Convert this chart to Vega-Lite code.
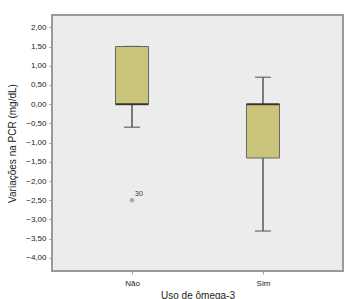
{
  "$schema": "https://vega.github.io/schema/vega-lite/v6.json",
  "autosize": {"type": "none"},
  "padding": {"left": 52, "top": 15, "right": 6, "bottom": 28},
  "width": 291,
  "height": 256,
  "background": "white",
  "config": {
    "view": {"fill": "#ececec", "stroke": "#9a9a9a", "strokeWidth": 2},
    "axis": {"labelFont": "Liberation Sans", "titleFont": "Liberation Sans", "labelColor": "#222", "titleColor": "#222", "titleFontWeight": "normal", "domain": false, "grid": false, "tickColor": "#999", "tickSize": 3, "labelOverlap": false},
    "axisY": {"labelOverlap": false, "tickCount": 13}
  },
  "datasets": {
    "boxes": [
      {"group": "Não", "lower": -0.6, "q1": 0.0, "median": 0.0, "q3": 1.5, "upper": 1.5},
      {"group": "Sim", "lower": -3.3, "q1": -1.4, "median": 0.0, "q3": 0.0, "upper": 0.7}
    ],
    "outliers": [
      {"group": "Não", "value": -2.5, "label": "30"}
    ]
  },
  "layer": [
    {
      "data": {"name": "boxes"},
      "mark": {"type": "rule", "color": "#555", "strokeWidth": 1.5},
      "encoding": {
        "x": {"field": "group", "type": "nominal", "scale": {"type": "point", "padding": 0.611, "domain": ["Não", "Sim"]},
          "axis": {"title": "Uso de ômega-3", "labelAngle": 0, "labelFontSize": 8, "titleFontSize": 10, "labelPadding": 5, "titlePadding": 3}},
        "y": {"field": "lower", "type": "quantitative", "scale": {"domain": [-4.34, 2.32], "nice": false, "zero": false},
          "axis": {"title": "Variações na PCR (mg/dL)", "values": [2, 1.5, 1, 0.5, 0, -0.5, -1, -1.5, -2, -2.5, -3, -3.5, -4],
            "labelOverlap": false,
            "labelExpr": "replace(format(datum.value, '.2f'), '.', ',')", "labelFontSize": 8, "titleFontSize": 10, "labelPadding": 3, "titlePadding": 8}},
        "y2": {"field": "upper"}
      }
    },
    {
      "data": {"name": "boxes"},
      "mark": {"type": "tick", "color": "#555", "size": 16, "thickness": 1.5, "orient": "horizontal"},
      "encoding": {
        "x": {"field": "group", "type": "nominal"},
        "y": {"field": "lower", "type": "quantitative", "title": "Variações na PCR (mg/dL)"}
      }
    },
    {
      "data": {"name": "boxes"},
      "mark": {"type": "tick", "color": "#555", "size": 16, "thickness": 1.5, "orient": "horizontal"},
      "encoding": {
        "x": {"field": "group", "type": "nominal"},
        "y": {"field": "upper", "type": "quantitative", "title": "Variações na PCR (mg/dL)"}
      }
    },
    {
      "data": {"name": "boxes"},
      "mark": {"type": "bar", "size": 33, "fill": "#cbc47b", "stroke": "#666", "strokeWidth": 1},
      "encoding": {
        "x": {"field": "group", "type": "nominal"},
        "y": {"field": "q1", "type": "quantitative", "title": "Variações na PCR (mg/dL)"},
        "y2": {"field": "q3"}
      }
    },
    {
      "data": {"name": "boxes"},
      "mark": {"type": "tick", "color": "#111", "size": 33, "thickness": 2, "orient": "horizontal"},
      "encoding": {
        "x": {"field": "group", "type": "nominal"},
        "y": {"field": "median", "type": "quantitative", "title": "Variações na PCR (mg/dL)"}
      }
    },
    {
      "data": {"name": "outliers"},
      "mark": {"type": "point", "filled": true, "color": "#aaa", "size": 22, "opacity": 1},
      "encoding": {
        "x": {"field": "group", "type": "nominal"},
        "y": {"field": "value", "type": "quantitative", "title": "Variações na PCR (mg/dL)"}
      }
    },
    {
      "data": {"name": "outliers"},
      "mark": {"type": "text", "font": "Liberation Sans", "fontSize": 7, "dx": 3, "dy": -6, "align": "left"},
      "encoding": {
        "x": {"field": "group", "type": "nominal"},
        "y": {"field": "value", "type": "quantitative", "title": "Variações na PCR (mg/dL)"},
        "text": {"field": "label"},
        "color": {"value": "#333333"}
      }
    }
  ]
}
